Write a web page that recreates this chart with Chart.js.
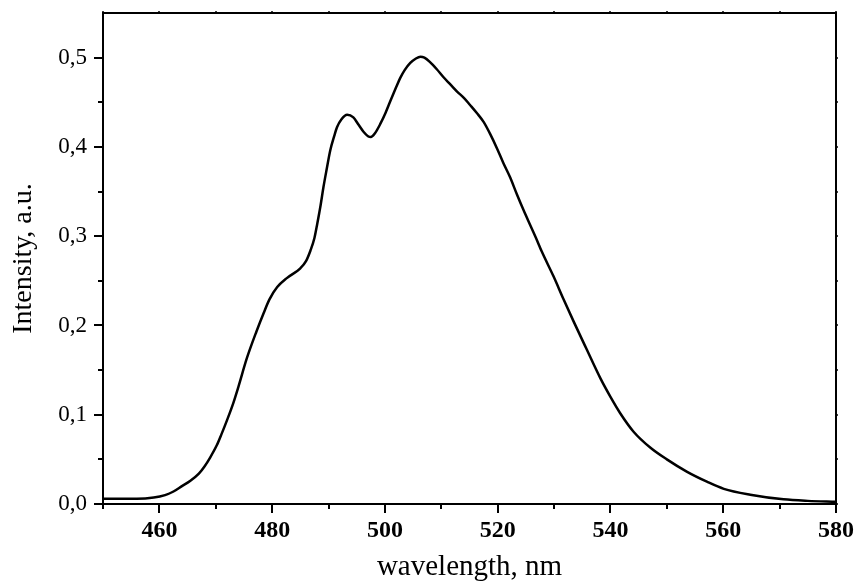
<!DOCTYPE html>
<html><head><meta charset="utf-8">
<script src="https://cdn.jsdelivr.net/npm/chart.js@4/dist/chart.umd.min.js"></script>
<style>html,body{margin:0;padding:0;background:#fff}#wrap{width:855px;height:582px}</style>
</head><body><div id="wrap"><canvas id="c" width="855" height="582"></canvas></div>
<script>
const wavelength = [450.0,453,456,459,461,462.5,464,465.5,467,468,469,470.2,471,472,473,474,475.5,477.2,478.5,479.5,480.9,482.6,485.0,486.0,486.8,487.5,488.0,488.6,489.1,489.7,490.3,491.0,491.5,492.3,493.3,494.4,495.3,496.2,497.0,497.5,498.2,499.2,500.1,501.0,502.0,502.7,503.5,504.5,505.5,506.3,507.0,508.0,509.2,510.4,511.6,512.8,514.0,515.1,516.3,517.5,518.7,519.9,521.0,522.2,523.4,524.6,525.8,527.0,527.8,529.9,531.7,533.5,535.8,538.2,540.0,541.7,544.1,547.1,550.0,553.6,557.1,560.1,564.8,570.7,575,580];
const intensity = [0.0060,0.0058,0.0058,0.0072,0.0100,0.014,0.020,0.026,0.034,0.042,0.052,0.066,0.078,0.094,0.111,0.131,0.163,0.193,0.214,0.229,0.243,0.253,0.264,0.272,0.284,0.298,0.314,0.335,0.355,0.376,0.396,0.412,0.422,0.431,0.436,0.433,0.425,0.417,0.412,0.411,0.415,0.426,0.438,0.452,0.467,0.477,0.486,0.494,0.499,0.501,0.500,0.495,0.487,0.478,0.470,0.462,0.455,0.447,0.438,0.428,0.414,0.398,0.382,0.366,0.347,0.329,0.312,0.295,0.283,0.255,0.229,0.204,0.173,0.141,0.120,0.102,0.081,0.063,0.050,0.036,0.025,0.017,0.0104,0.0052,0.0035,0.0025];
const xMajorTicks = [460,480,500,520,540,560,580];
const xMinorTicks = [450,470,490,510,530,550,570];
const yMajorTicks = [0,0.1,0.2,0.3,0.4,0.5];
const yMinorTicks = [0.05,0.15,0.25,0.35,0.45];
const xTitle = 'wavelength, nm';
const yTitle = 'Intensity, a.u.';

const FONT = '"Liberation Serif","Times New Roman",serif';

const tickPlugin = {
  id: 'customTicks',
  afterDraw(chart) {
    const {ctx, chartArea: a, scales: {x, y}} = chart;
    ctx.save();
    ctx.strokeStyle = '#000';
    ctx.lineWidth = 2;
    ctx.beginPath();
    ctx.moveTo(a.left - 1, a.top);
    ctx.lineTo(a.right, a.top);
    ctx.lineTo(a.right, a.bottom + 1);
    ctx.stroke();
    ctx.beginPath();
    xMajorTicks.forEach(v => { const p = Math.round(x.getPixelForValue(v)); ctx.moveTo(p, a.bottom); ctx.lineTo(p, a.bottom + 9); });
    xMinorTicks.forEach(v => { const p = Math.round(x.getPixelForValue(v)); ctx.moveTo(p, a.bottom); ctx.lineTo(p, a.bottom + 5); });
    yMajorTicks.forEach(v => { const p = Math.round(y.getPixelForValue(v)); ctx.moveTo(a.left, p); ctx.lineTo(a.left - 9, p); });
    yMinorTicks.forEach(v => { const p = Math.round(y.getPixelForValue(v)); ctx.moveTo(a.left, p); ctx.lineTo(a.left - 5, p); });
    ctx.stroke();
    ctx.lineWidth = 1.5;
    ctx.beginPath();
    xMajorTicks.concat(xMinorTicks).forEach(v => { const p = Math.round(x.getPixelForValue(v)); ctx.moveTo(p, a.top); ctx.lineTo(p, a.top - 2); });
    yMajorTicks.concat(yMinorTicks).forEach(v => { const p = Math.round(y.getPixelForValue(v)); ctx.moveTo(a.right, p); ctx.lineTo(a.right + 2, p); });
    ctx.stroke();
    ctx.restore();
  }
};

new Chart(document.getElementById('c'), {
  type: 'line',
  data: {
    datasets: [{
      data: wavelength.map((w, i) => ({x: w, y: intensity[i]})),
      borderColor: '#000',
      borderWidth: 2.5,
      pointRadius: 0,
      tension: 0.4,
      cubicInterpolationMode: 'monotone',
      fill: false
    }]
  },
  options: {
    responsive: false,
    animation: false,
    devicePixelRatio: 1,
    layout: {padding: {top: 13, right: 19, left: 0, bottom: 0}},
    plugins: {legend: {display: false}, tooltip: {enabled: false}},
    scales: {
      x: {
        type: 'linear', position: 'bottom', min: 450, max: 580,
        afterBuildTicks: s => { s.ticks = xMajorTicks.map(v => ({value: v})); },
        afterFit: s => { s.height = 78; s.paddingLeft = 0; s.paddingRight = 0; },
        grid: {display: false, drawTicks: false},
        border: {display: true, color: '#000', width: 2},
        ticks: {
          color: '#000', padding: 15, maxRotation: 0, autoSkip: false,
          font: {family: FONT, size: 24, weight: 'bold', lineHeight: 1},
          callback: v => String(v)
        },
        title: {display: true, text: xTitle, color: '#000',
          font: {family: FONT, size: 29, lineHeight: 1}, padding: {top: 0, bottom: 0}}
      },
      y: {
        type: 'linear', position: 'left', min: 0, max: 0.55,
        afterBuildTicks: s => { s.ticks = yMajorTicks.map(v => ({value: v})); },
        afterFit: s => { s.width = 103; s.paddingTop = 0; s.paddingBottom = 0; },
        grid: {display: false, drawTicks: false},
        border: {display: true, color: '#000', width: 2},
        ticks: {
          color: '#000', padding: 16,
          font: {family: FONT, size: 23, lineHeight: 1},
          callback: v => v.toFixed(1).replace('.', ',')
        },
        title: {display: true, text: yTitle, color: '#000',
          font: {family: FONT, size: 28, lineHeight: 1}, padding: {top: 10, bottom: 0}}
      }
    }
  },
  plugins: [tickPlugin]
});
</script>
</body></html>
